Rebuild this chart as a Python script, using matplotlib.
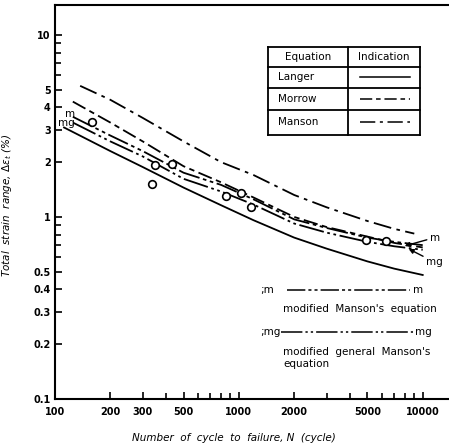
import matplotlib
matplotlib.use("Agg")
import matplotlib.pyplot as plt
from matplotlib.lines import Line2D

# total strain range (%) against cycles to failure
n_langer = [112, 200, 300, 500, 800, 1200, 2000, 3000, 5000, 7000, 10000]
e_langer = [3.1, 2.3, 1.88, 1.45, 1.16, 0.96, 0.77, 0.67, 0.57, 0.52, 0.48]

n_morrow = [125, 200, 300, 500, 800, 1200, 2000, 3000, 5000, 7000, 10000]
e_morrow = [4.3, 3.3, 2.6, 1.9, 1.55, 1.28, 1.0, 0.88, 0.78, 0.72, 0.68]

n_manson = [137, 200, 300, 500, 800, 1200, 2000, 3000, 5000, 7000, 9000]
e_manson = [5.25, 4.4, 3.5, 2.6, 2.0, 1.7, 1.32, 1.13, 0.95, 0.86, 0.81]

# modified Manson (m) and modified general Manson (mg)
n_mod = [125, 200, 300, 500, 800, 1200, 2000, 3000, 5000, 7000, 10000]
e_m = [3.55, 2.8, 2.3, 1.75, 1.5, 1.25, 0.97, 0.87, 0.77, 0.73, 0.70]
e_mg = [3.3, 2.6, 2.15, 1.62, 1.38, 1.17, 0.92, 0.82, 0.73, 0.69, 0.66]

# test results
n_test = [159, 335, 352, 431, 849, 1025, 1164, 4900, 6350]
e_test = [3.32, 1.52, 1.93, 1.96, 1.31, 1.35, 1.13, 0.75, 0.74]

xticks = [100, 200, 300, 500, 1000, 2000, 5000, 10000]
xminor = [400, 600, 700, 800, 900, 3000, 4000, 6000, 7000, 8000, 9000]
yticks = [0.1, 0.2, 0.3, 0.4, 0.5, 1, 2, 3, 4, 5, 10]
yminor = [0.6, 0.7, 0.8, 0.9, 6, 7, 8, 9]

ls_langer = '-'
ls_morrow = (0, (8, 2.5, 3, 2.5))
ls_manson = (0, (10, 3, 2, 3))
ls_m = (0, (12, 2, 2, 2, 2, 2))
ls_mg = (0, (14, 2, 1.5, 2, 1.5, 2))

lw = 1.3
fs = 7.5

fig = plt.figure(figsize=(4.49, 4.48), dpi=100)
ax = fig.add_axes([0.1225, 0.1094, 0.8775, 0.8795])

ax.plot(n_langer, e_langer, color='k', lw=lw, ls=ls_langer)
ax.plot(n_morrow, e_morrow, color='k', lw=lw, ls=ls_morrow)
ax.plot(n_manson, e_manson, color='k', lw=lw, ls=ls_manson)
ax.plot(n_mod, e_m, color='k', lw=lw, ls=ls_m)
ax.plot(n_mod, e_mg, color='k', lw=lw, ls=ls_mg)
ax.plot(n_test, e_test, 'o', mfc='white', mec='k', ms=5.5, mew=1.2)

ax.set_xscale('log')
ax.set_yscale('log')
ax.set_xlim(100, 13900)
ax.set_ylim(0.1, 14.6)

ax.set_xticks(xticks)
ax.set_xticklabels([str(v) for v in xticks])
ax.set_xticks(xminor, minor=True)
ax.set_yticks(yticks)
ax.set_yticklabels([('%g' % v) for v in yticks])
ax.set_yticks(yminor, minor=True)
ax.set_xticklabels([], minor=True)
ax.set_yticklabels([], minor=True)

ax.tick_params(which='both', direction='in', width=1.2, colors='k')
ax.tick_params(which='major', length=5)
ax.tick_params(which='minor', length=4)
ax.tick_params(axis='x', pad=6, labelsize=7)
ax.tick_params(axis='y', pad=3, labelsize=7)
for lab in ax.get_xticklabels() + ax.get_yticklabels():
    lab.set_fontweight('bold')

for side in ['left', 'bottom', 'top']:
    ax.spines[side].set_linewidth(1.5)
ax.spines['right'].set_visible(False)

ax.set_xlabel('Number  of  cycle  to  failure, N  (cycle)', fontsize=fs,
              style='italic')
ax.xaxis.set_label_coords(0.454, -0.086)
ax.set_ylabel(r'Total  strain  range, $\Delta\varepsilon_t$ (%)', fontsize=fs,
              style='italic')
ax.yaxis.set_label_coords(-0.104, 0.492)

# end labels on the modified curves
ax.text(121, 3.68, 'm', fontsize=fs, ha='center', va='center')
ax.text(104, 3.28, 'mg', fontsize=fs, ha='left', va='center')
ax.annotate('m', xy=(7980, 0.693), xytext=(10900, 0.77), fontsize=fs,
            ha='left', va='center',
            arrowprops=dict(arrowstyle='-|>', color='k', lw=1, shrinkA=0,
                            shrinkB=0, mutation_scale=7))
ax.annotate('mg', xy=(8390, 0.667), xytext=(10400, 0.566), fontsize=fs,
            ha='left', va='center',
            arrowprops=dict(arrowstyle='-|>', color='k', lw=1, shrinkA=0,
                            shrinkB=0, mutation_scale=7))

# legend table
tr = ax.transAxes
x0, x1, xd = 0.541, 0.926, 0.744
rows = [0.893, 0.843, 0.789, 0.734, 0.670]
for y in rows:
    ax.add_line(Line2D([x0, x1], [y, y], color='k', lw=1.3, transform=tr))
for x in [x0, xd, x1]:
    ax.add_line(Line2D([x, x], [rows[0], rows[-1]], color='k', lw=1.3,
                       transform=tr))
ax.text((x0 + xd) / 2, 0.868, 'Equation', fontsize=fs, ha='center',
        va='center', transform=tr)
ax.text((xd + x1) / 2, 0.868, 'Indication', fontsize=fs, ha='center',
        va='center', transform=tr)
names = ['Langer', 'Morrow', 'Manson']
styles = [ls_langer, ls_morrow, ls_manson]
for i, (name, ls) in enumerate(zip(names, styles)):
    yc = (rows[i + 1] + rows[i + 2]) / 2
    ax.text(0.566, yc, name, fontsize=fs, ha='left', va='center', transform=tr)
    ax.add_line(Line2D([0.774, 0.901], [yc, yc], color='k', lw=1.1, ls=ls,
                       transform=tr))

# key for the modified equations
ax.text(0.520, 0.277, ';m', fontsize=fs, ha='left', va='center', transform=tr)
ax.add_line(Line2D([0.589, 0.901], [0.277, 0.277], color='k', lw=1.1,
                   ls=ls_m, transform=tr))
ax.text(0.909, 0.277, 'm', fontsize=fs, ha='left', va='center', transform=tr)
ax.text(0.579, 0.228, "modified  Manson's  equation", fontsize=fs, ha='left',
        va='center', transform=tr)
ax.text(0.520, 0.170, ';mg', fontsize=fs, ha='left', va='center', transform=tr)
ax.add_line(Line2D([0.574, 0.909], [0.170, 0.170], color='k', lw=1.1,
                   ls=ls_mg, transform=tr))
ax.text(0.914, 0.170, 'mg', fontsize=fs, ha='left', va='center', transform=tr)
ax.text(0.579, 0.119, "modified  general  Manson's", fontsize=fs, ha='left',
        va='center', transform=tr)
ax.text(0.579, 0.089, 'equation', fontsize=fs, ha='left', va='center',
        transform=tr)

fig.savefig('out.png', dpi=100)
